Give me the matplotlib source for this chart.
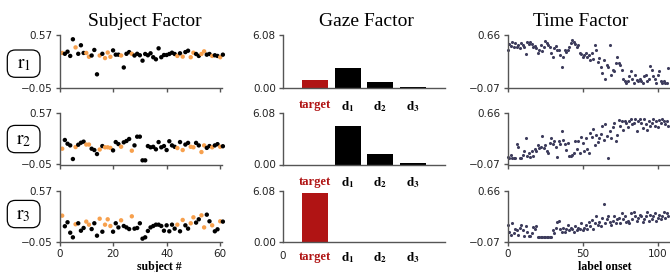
import matplotlib
matplotlib.use("Agg")
import matplotlib.pyplot as plt
from matplotlib.patches import FancyBboxPatch
import numpy as np

# ---- data ----
subjects = np.arange(1, 62)
orange_subjects = [1, 6, 10, 11, 15, 17, 18, 19, 23, 27, 44, 46, 49, 50, 53, 54, 57, 60]

subject_r1 = [0.36, 0.35, 0.375, 0.325, 0.52, 0.425, 0.35, 0.45, 0.36, 0.36,
              0.315, 0.33, 0.395, 0.11, 0.33, 0.35, 0.30, 0.365, 0.315, 0.39,
              0.34, 0.34, 0.33, 0.19, 0.35, 0.37, 0.35, 0.33, 0.35, 0.333,
              0.27, 0.348, 0.333, 0.356, 0.31, 0.286, 0.414, 0.31, 0.336, 0.336,
              0.348, 0.363, 0.348, 0.325, 0.356, 0.317, 0.37, 0.386, 0.31, 0.363,
              0.348, 0.325, 0.348, 0.379, 0.34, 0.348, 0.325, 0.333, 0.325, 0.31,
              0.34]
subject_r2 = [0.14, 0.245, 0.20, 0.18, 0.016, 0.16, 0.188, 0.212, 0.225, 0.19,
              0.19, 0.14, 0.124, 0.076, 0.13, 0.172, 0.157, 0.157, 0.15, 0.12,
              0.22, 0.196, 0.164, 0.217, 0.233, 0.257, 0.116, 0.18, 0.285, 0.285,
              0.0, 0.0, 0.172, 0.157, 0.163, 0.133, 0.22, 0.157, 0.172, 0.124,
              0.23, 0.18, 0.163, 0.148, 0.22, 0.124, 0.19, 0.21, 0.163, 0.157,
              0.21, 0.18, 0.10, 0.18, 0.15, 0.172, 0.157, 0.18, 0.195, 0.163,
              0.17]
subject_r3 = [0.272, 0.144, 0.192, 0.066, 0.01, 0.168, 0.18, 0.09, 0.123, 0.2,
              0.163, 0.11, 0.18, 0.03, 0.235, 0.078, 0.163, 0.228, 0.147, 0.078,
              0.18, 0.13, 0.216, 0.147, 0.13, 0.11, 0.264, 0.115, 0.123, 0.18,
              -0.006, 0.01, 0.087, 0.13, 0.147, 0.163, 0.163, 0.147, 0.09, 0.155,
              0.083, 0.163, 0.115, 0.163, 0.083, 0.22, 0.155, 0.115, 0.18, 0.252,
              0.188, 0.228, 0.276, 0.13, 0.284, 0.204, 0.155, 0.083, 0.107, 0.204,
              0.2]

gaze_labels = ["target", r"$\mathbf{d}_\mathbf{1}$", r"$\mathbf{d}_\mathbf{2}$", r"$\mathbf{d}_\mathbf{3}$"]
gaze_r1 = [0.96, 2.31, 0.69, 0.10]
gaze_r2 = [0.0, 4.55, 1.26, 0.15]
gaze_r3 = [5.88, 0.0, 0.0, 0.08]

onset = np.arange(108)
time_r1 = [0.45, 0.54, 0.51, 0.57, 0.50, 0.55, 0.49, 0.52, 0.48,
           0.55, 0.52, 0.50, 0.40, 0.56, 0.53, 0.57, 0.54,
           0.50, 0.51, 0.48, 0.41, 0.45, 0.52, 0.44, 0.49,
           0.58, 0.55, 0.52, 0.50, 0.41, 0.36, 0.48, 0.51,
           0.45, 0.46, 0.39, 0.22, 0.36, 0.45, 0.43, 0.45,
           0.49, 0.55, 0.59, 0.56, 0.54, 0.50, 0.52, 0.41,
           0.40, 0.36, 0.39, 0.41, 0.36, 0.39, 0.31, 0.41,
           0.33, 0.52, 0.45, 0.29, 0.34, 0.22, 0.13, 0.32, 0.06,
           0.25, 0.22, 0.52, 0.11, 0.18, 0.16, 0.27,
           0.36, 0.27, 0.25, 0.18, 0.06, 0.02, 0.00, 0.02,
           0.09, 0.17, 0.06, 0.00, 0.11, 0.04, 0.02, 0.06,
           0.02, 0.00, 0.09, 0.11, 0.03, 0.06, 0.23, 0.18,
           0.09, 0.05, 0.00, 0.11, 0.16, 0.03, 0.00, 0.02,
           0.00, 0.00, 0.20]
time_r2 = [0.03, 0.02, 0.06, 0.02, 0.02, 0.02, 0.22, 0.18, 0.02, 0.02,
           0.06, 0.12, 0.30, 0.05, 0.10, 0.03, 0.12, 0.05, 0.15, 0.12,
           0.20, 0.17, 0.18, 0.34, 0.17, 0.20, 0.12, 0.10, 0.24, 0.30,
           0.22, 0.26, 0.18, 0.04, 0.26, 0.22, 0.40, 0.28, 0.22, 0.14,
           0.24, 0.05, 0.05, 0.06, 0.10, 0.26, 0.15, 0.26, 0.10, 0.32,
           0.24, 0.12, 0.30, 0.15, 0.10, 0.38, 0.32, 0.44, 0.20, 0.35,
           0.25, 0.30, 0.36, 0.48, 0.28, 0.50, 0.33, 0.02, 0.40, 0.30,
           0.46, 0.52, 0.26, 0.35, 0.56, 0.48, 0.55, 0.42, 0.54, 0.52,
           0.46, 0.55, 0.58, 0.50, 0.52, 0.58, 0.40, 0.55, 0.57, 0.52,
           0.45, 0.58, 0.50, 0.42, 0.55, 0.47, 0.52, 0.58, 0.48, 0.55,
           0.46, 0.56, 0.52, 0.58, 0.55, 0.50, 0.55, 0.48]
time_r3 = [0.18, 0.08, 0.04, 0.20, 0.06, 0.12, 0.10, 0.04, 0.14, 0.18,
           0.10, 0.02, 0.16, 0.08, 0.02, 0.02, 0.06, 0.15, 0.12, 0.16,
           0.01, 0.01, 0.01, 0.01, 0.01, 0.01, 0.01, 0.01, 0.01, 0.01,
           0.10, 0.06, 0.14, 0.22, 0.24, 0.12, 0.08, 0.14, 0.08, 0.12,
           0.18, 0.10, 0.14, 0.12, 0.08, 0.16, 0.10, 0.14, 0.12, 0.20,
           0.10, 0.14, 0.18, 0.12, 0.22, 0.16, 0.25, 0.12, 0.20, 0.30,
           0.18, 0.22, 0.16, 0.28, 0.47, 0.20, 0.26, 0.30, 0.22, 0.18,
           0.24, 0.30, 0.20, 0.26, 0.28, 0.20, 0.34, 0.26, 0.30, 0.22,
           0.24, 0.20, 0.34, 0.26, 0.36, 0.30, 0.24, 0.28, 0.32, 0.30,
           0.22, 0.26, 0.30, 0.36, 0.24, 0.32, 0.26, 0.30, 0.34, 0.24,
           0.28, 0.32, 0.26, 0.30, 0.36, 0.28, 0.34, 0.30]

subject_rows = [subject_r1, subject_r2, subject_r3]
gaze_rows = [gaze_r1, gaze_r2, gaze_r3]
time_rows = [time_r1, time_r2, time_r3]

# ---- style ----
plt.rcParams['mathtext.fontset'] = 'stix'
SERIF = 'Liberation Serif'
SPINE = '#555555'
ORANGE = '#f7a04d'
RED = '#b01414'
PURPLE = '#3d3c5c'

W, H = 670, 272
fig = plt.figure(figsize=(W / 100, H / 100), dpi=100)

col_left = [59.5, 282.7, 507.7]
col_w = 162.3
row_top = [35, 113, 191]
row_bot = [88, 164.5, 242.3]


def make_ax(c, r):
    ax = fig.add_axes([col_left[c] / W, 1 - row_bot[r] / H,
                       col_w / W, (row_bot[r] - row_top[r]) / H])
    for s in ['top', 'right']:
        ax.spines[s].set_visible(False)
    for s in ['left', 'bottom']:
        ax.spines[s].set_color(SPINE)
        ax.spines[s].set_linewidth(1.0)
    ax.tick_params(length=3, width=1, color=SPINE, labelsize=7.5,
                   labelcolor='#222222', pad=2)
    ax.patch.set_alpha(0)
    return ax


colors = [ORANGE if s in orange_subjects else 'black' for s in subjects]

for r in range(3):
    # subject factor
    ax = make_ax(0, r)
    ax.scatter(subjects, subject_rows[r], s=10, c=colors, linewidths=0, clip_on=False)
    ax.set_xlim(0, 60.6)
    ax.set_ylim(-0.05, 0.57)
    ax.set_yticks([-0.05, 0.57])
    ax.set_yticklabels(['\u22120.05', '0.57'])
    ax.set_xticks([0, 20, 40, 60])
    if r < 2:
        ax.set_xticklabels([])

    # gaze factor
    ax = make_ax(1, r)
    ax.bar([1, 2, 3, 4], gaze_rows[r], width=0.8, color=[RED, 'black', 'black', 'black'])
    ax.set_xlim(0, 5)
    ax.set_ylim(0, 6.08)
    ax.set_yticks([0, 6.08])
    ax.set_yticklabels(['0.00', '6.08'])
    if r == 2:
        ax.set_xticks([0, 1, 2, 3, 4])
        ax.set_xticklabels(['0'] + gaze_labels)
        labs = ax.get_xticklabels()[1:]
    else:
        ax.set_xticks([1, 2, 3, 4])
        ax.set_xticklabels(gaze_labels)
        labs = ax.get_xticklabels()
    ax.tick_params(axis='x', length=0, pad=6 if r == 2 else 8)
    for i, lab in enumerate(labs):
        lab.set_fontfamily(SERIF)
        lab.set_fontweight('bold')
        lab.set_fontsize(9.5 if i else 9)
        lab.set_color(RED if i == 0 else 'black')

    # time factor
    ax = make_ax(2, r)
    ax.scatter(onset, time_rows[r], s=5, c=PURPLE, linewidths=0, clip_on=False)
    ax.set_xlim(0, 108)
    ax.set_ylim(-0.07, 0.66)
    ax.set_yticks([-0.07, 0.66])
    ax.set_yticklabels(['\u22120.07', '0.66'])
    ax.set_xticks([0, 50, 100])
    if r < 2:
        ax.set_xticklabels([])

# titles
for xc, t in [(145, 'Subject Factor'), (366, 'Gaze Factor'), (581, 'Time Factor')]:
    fig.text(xc / W, 1 - 26 / H, t, ha='center', va='baseline',
             fontsize=14, family=SERIF)

# x labels
fig.text(159 / W, 1 - 270 / H, 'subject #', ha='center', va='baseline',
         fontsize=8.5, family=SERIF, fontweight='bold')
fig.text(605 / W, 1 - 270 / H, 'label onset', ha='center', va='baseline',
         fontsize=8.5, family=SERIF, fontweight='bold')

# row labels in rounded boxes (inches)
box_y = [1.947, 1.193, 0.443]
for i, y0 in enumerate(box_y):
    box = FancyBboxPatch((0.073, y0), 0.327, 0.273,
                         boxstyle='round,pad=0,rounding_size=0.08',
                         transform=fig.dpi_scale_trans, fc='white', ec='black', lw=0.9)
    fig.add_artist(box)
    fig.text(0.073 + 0.327 / 2, y0 + 0.273 / 2, r'$\mathrm{r}_{%d}$' % (i + 1),
             transform=fig.dpi_scale_trans, ha='center', va='center', fontsize=14)

fig.savefig('out.png', dpi=100)
